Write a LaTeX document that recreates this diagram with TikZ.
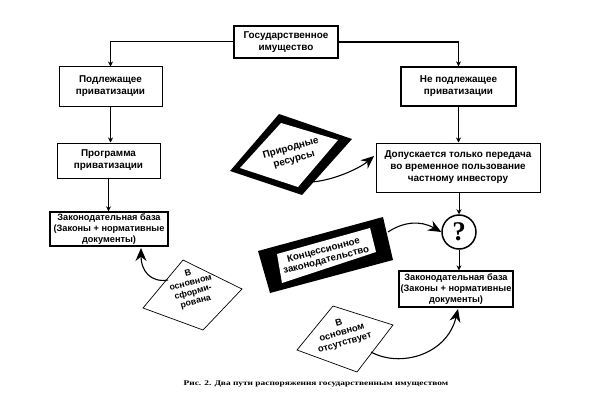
\documentclass[tikz,border=0pt]{standalone}
\usepackage{fontspec}
\setmainfont{Liberation Sans}
\newfontfamily\capfont{Liberation Serif}
\usetikzlibrary{arrows.meta}
\tikzset{
  blk/.style={font=\bfseries\fontsize{9.9}{12}\selectfont,align=center,inner sep=0pt},
  basetext/.style={font=\bfseries\fontsize{9.2}{10.6}\selectfont},
  boxa/.style={blk,draw=black,line width=1.2pt,fill=white,minimum width=#1},
  sloped/.style={blk,rotate=#1},
  link/.style={draw=black,line width=0.9pt,-{Stealth[length=5pt,width=5pt]}},
  bigarrow/.style={draw=black,line width=1.1pt,-{Stealth[length=13pt,width=11pt]}},
  sheet/.style={draw=black,line width=0.7pt,fill=white}
}
\begin{document}
\begin{tikzpicture}[x=1pt,y=-1pt]
\useasboundingbox (0,0) rectangle (600,420);
% boxes
\node[boxa=104pt,minimum height=32pt,line width=1.5pt] (gov) at (286,42) {Государственное\\имущество};
\node[boxa=103pt,minimum height=39pt,line width=1pt] (pod) at (110.5,86.5) {Подлежащее\\приватизации};
\node[boxa=115pt,minimum height=39pt,line width=1.3pt] (nepod) at (458.5,86.5) {Не подлежащее\\приватизации};
\node[boxa=103pt,minimum height=35pt,line width=1pt] (prog) at (108.5,160.5) {Программа\\приватизации};
\node[boxa=164pt,minimum height=49pt,line width=1pt] (dop) at (458,167.5) {Допускается только передача\\во временное пользование\\частному инвестору};
\node[boxa=118pt,minimum height=34pt,line width=1.3pt,basetext] (lbase) at (109,229) {Законодательная база\\(Законы + нормативные\\документы)};
\node[boxa=114pt,minimum height=36pt,line width=1.3pt,basetext] (rbase) at (456,289) {Законодательная база\\(Законы + нормативные\\документы)};
\node[draw=black,line width=1.5pt,circle,fill=white,minimum size=34pt,inner sep=0pt,font=\bfseries\fontsize{27}{27}\selectfont\capfont] (q) at (459,232) {?};
% framed sheets
\fill[black] (279,114) -- (352,139) -- (302,195) -- (230,171) -- cycle;
\fill[white] (281,123) -- (338,140) -- (298,187) -- (240,168) -- cycle;
\node[sloped=16] (nat) at (292.5,154) {Природные\\ресурсы};
\fill[black] (258,251) -- (383,217) -- (393,260) -- (270,293) -- cycle;
\fill[white] (277,254) -- (370,228) -- (376,252) -- (282,283) -- cycle;
\node[sloped=14.5,font=\bfseries\fontsize{9.7}{10.3}\selectfont] (kon) at (325,255.5) {Концессионное\\законодательство};
% thin sheets
\draw[sheet] (183,260) -- (242,289) -- (203,330) -- (143,308) -- cycle;
\node[sloped=15,font=\bfseries\fontsize{8.8}{9.7}\selectfont] (sform) at (192,288) {В\\основном\\сформи-\\рована};
\draw[sheet] (333,306) -- (393,325) -- (357,372) -- (297,350) -- cycle;
\node[sloped=16,font=\bfseries\fontsize{9.4}{10.5}\selectfont] (otsut) at (342,333) {В\\основном\\отсутствует};
% free ends of the curved arrows
\coordinate (natout) at (312,182);
\coordinate (konout) at (388,232);
\coordinate (sfout) at (168,280);
\coordinate (otout) at (371,352);
\coordinate (govl) at (110.5,41);
\coordinate (govr) at (458.5,42);
% connectors
\draw[link] (gov.west |- govl) -- (govl) -- (pod.north);
\draw[link,line width=1.2pt] (gov.east |- govr) -- (govr) -- (nepod.north);
\draw[link,line width=1.4pt] (pod.south) -- (pod.south |- prog.north);
\draw[link] (prog.south) -- (prog.south |- lbase.north);
\draw[link] (nepod.south) -- (nepod.south |- dop.north);
\draw[link] (dop.south -| q.north) -- (q.north);
\draw[link] (q.south) -- (q.south |- rbase.north);
\draw[bigarrow] (natout) .. controls (335,180) and (360,168) .. (374,156);
\draw[bigarrow] (konout) .. controls (403,222) and (420,220) .. (q.west);
\draw[bigarrow] (sfout) .. controls (150,283) and (141,270) .. (141,248);
\draw[bigarrow] (otout) .. controls (400,368) and (447,355) .. (458,309);
% caption
\node[font=\bfseries\fontsize{7.2}{8}\selectfont\capfont,inner sep=0pt] (cap) at (316,384) {\scalebox{1.3}[1]{Рис. 2. Два пути распоряжения государственным имуществом}};
\end{tikzpicture}
\end{document}
